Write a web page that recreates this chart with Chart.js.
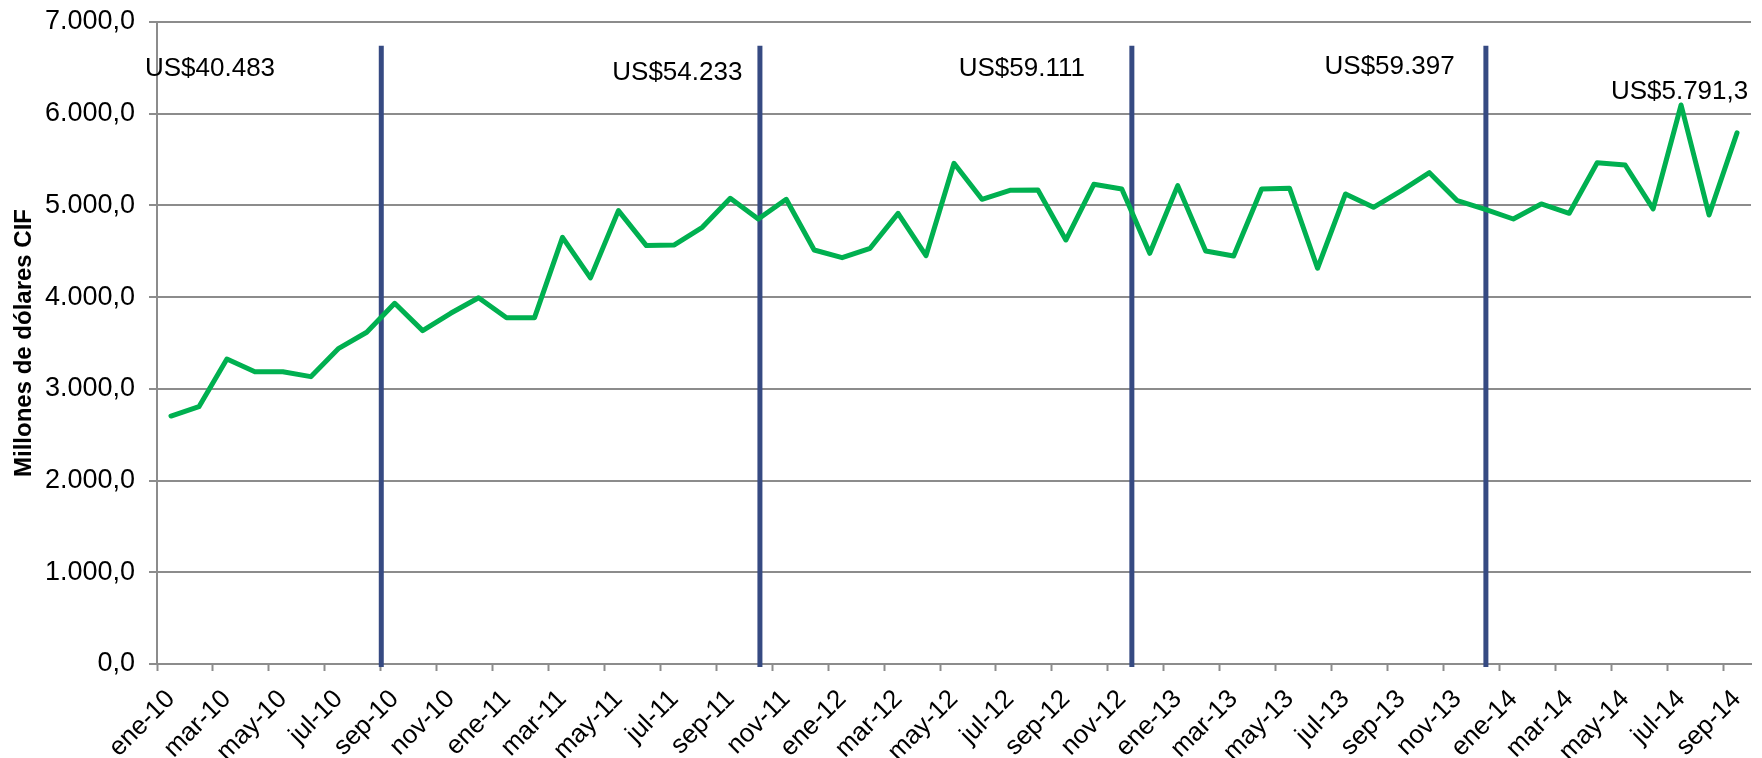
<!DOCTYPE html>
<html>
<head>
<meta charset="utf-8">
<script src="https://cdn.jsdelivr.net/npm/chart.js@4/dist/chart.umd.min.js"></script>
<style>
  html, body { margin: 0; padding: 0; background: #fff; }
</style>
</head>
<body>
<canvas id="myChart" width="1762" height="758"></canvas>
<script>
// meses ene-10 .. sep-14
var meses = [
  'ene-10','feb-10','mar-10','abr-10','may-10','jun-10','jul-10','ago-10','sep-10','oct-10','nov-10','dic-10',
  'ene-11','feb-11','mar-11','abr-11','may-11','jun-11','jul-11','ago-11','sep-11','oct-11','nov-11','dic-11',
  'ene-12','feb-12','mar-12','abr-12','may-12','jun-12','jul-12','ago-12','sep-12','oct-12','nov-12','dic-12',
  'ene-13','feb-13','mar-13','abr-13','may-13','jun-13','jul-13','ago-13','sep-13','oct-13','nov-13','dic-13',
  'ene-14','feb-14','mar-14','abr-14','may-14','jun-14','jul-14','ago-14','sep-14'
];

// millones de dolares CIF
var valores = [
  2704, 2806, 3326, 3187, 3187, 3133, 3442, 3617, 3933, 3635, 3824, 3994,
  3776, 3776, 4652, 4210, 4943, 4562, 4569, 4761, 5078, 4852, 5067, 4514,
  4430, 4533, 4914, 4453, 5459, 5067, 5165, 5169, 4623, 5230, 5179, 4478,
  5216, 4503, 4449, 5179, 5187, 4315, 5125, 4979, 5161, 5357, 5052, 4958,
  4852, 5016, 4914, 5466, 5441, 4962, 6095, 4896, 5791.3
];

// totales anuales y donde van (en unidades de categoria / valor)
var totales = ['US$40.483', 'US$54.233', 'US$59.111', 'US$59.397', 'US$5.791,3'];
var totalX = [-0.93, 15.78, 28.17, 41.25, 51.49];
var totalY = [6488, 6450, 6493, 6510, 6237];

// lineas separadoras de cada periodo
var cortes = [7.52, 21.06, 34.36, 47.02];
var corteTope = 6740;

var fuente = "'Liberation Sans', Arial, sans-serif";

function fmt(v) {
  var s = v.toFixed(1).replace('.', ',');
  return s.replace(/\B(?=(\d{3})+(?!\d))/g, '.');
}

const marcas = {
  id: 'marcas',
  beforeDatasetsDraw: (chart) => {
    const {ctx} = chart;
    const x = chart.scales.x, y = chart.scales.y;
    ctx.save();
    ctx.strokeStyle = '#364a82';
    ctx.lineWidth = 5;
    cortes.forEach(function(c) {
      var px = x.getPixelForValue(c);
      ctx.beginPath();
      ctx.moveTo(px, y.getPixelForValue(corteTope));
      ctx.lineTo(px, y.getPixelForValue(0) + 3);
      ctx.stroke();
    });
    ctx.restore();
  },
  afterDatasetsDraw: (chart) => {
    const {ctx} = chart;
    const x = chart.scales.x, y = chart.scales.y;
    ctx.save();
    ctx.fillStyle = '#000';
    ctx.font = '26px ' + fuente;
    ctx.textAlign = 'left';
    ctx.textBaseline = 'middle';
    totales.forEach(function(t, i) {
      ctx.fillText(t, x.getPixelForValue(totalX[i]), y.getPixelForValue(totalY[i]));
    });
    ctx.restore();
  }
};

new Chart(document.getElementById('myChart'), {
  type: 'line',
  data: {
    labels: meses,
    datasets: [{
      data: valores,
      borderColor: '#00b050',
      borderWidth: 5,
      borderJoinStyle: 'round',
      borderCapStyle: 'round',
      pointRadius: 0,
      tension: 0,
      fill: false
    }]
  },
  options: {
    responsive: false,
    animation: false,
    devicePixelRatio: 1,
    layout: { padding: { top: 22, right: 11, left: 0, bottom: 0 } },
    plugins: {
      legend: { display: false },
      tooltip: { enabled: false }
    },
    scales: {
      x: {
        offset: true,
        grid: {
          offset: true,
          drawOnChartArea: false,
          tickLength: 7,
          tickWidth: 2,
          tickColor: (c) => (c.index % 2 === 0 ? '#8c8c8c' : 'rgba(0,0,0,0)')
        },
        border: { color: '#8c8c8c', width: 2 },
        ticks: {
          autoSkip: false,
          minRotation: 45,
          maxRotation: 45,
          padding: 13,
          color: '#000',
          font: { family: fuente, size: 26 },
          callback: function(v, i) { return i % 2 === 0 ? this.getLabelForValue(v) : ''; }
        },
        afterFit: (s) => { s.height = 94; s.paddingLeft = 0; s.paddingRight = 0; }
      },
      y: {
        min: 0,
        max: 7000,
        ticks: {
          stepSize: 1000,
          padding: 14,
          color: '#000',
          font: { family: fuente, size: 27 },
          callback: (v) => fmt(v)
        },
        grid: { color: '#8c8c8c', lineWidth: 2, tickLength: 8 },
        border: { color: '#8c8c8c', width: 2 },
        title: {
          display: true,
          text: 'Millones de dólares CIF',
          color: '#000',
          font: { family: fuente, size: 24, weight: 'bold' },
          padding: { top: 10, bottom: 0 }
        },
        afterFit: (s) => { s.width = 157; s.paddingTop = 0; s.paddingBottom = 0; }
      }
    }
  },
  plugins: [marcas]
});
</script>
</body>
</html>
